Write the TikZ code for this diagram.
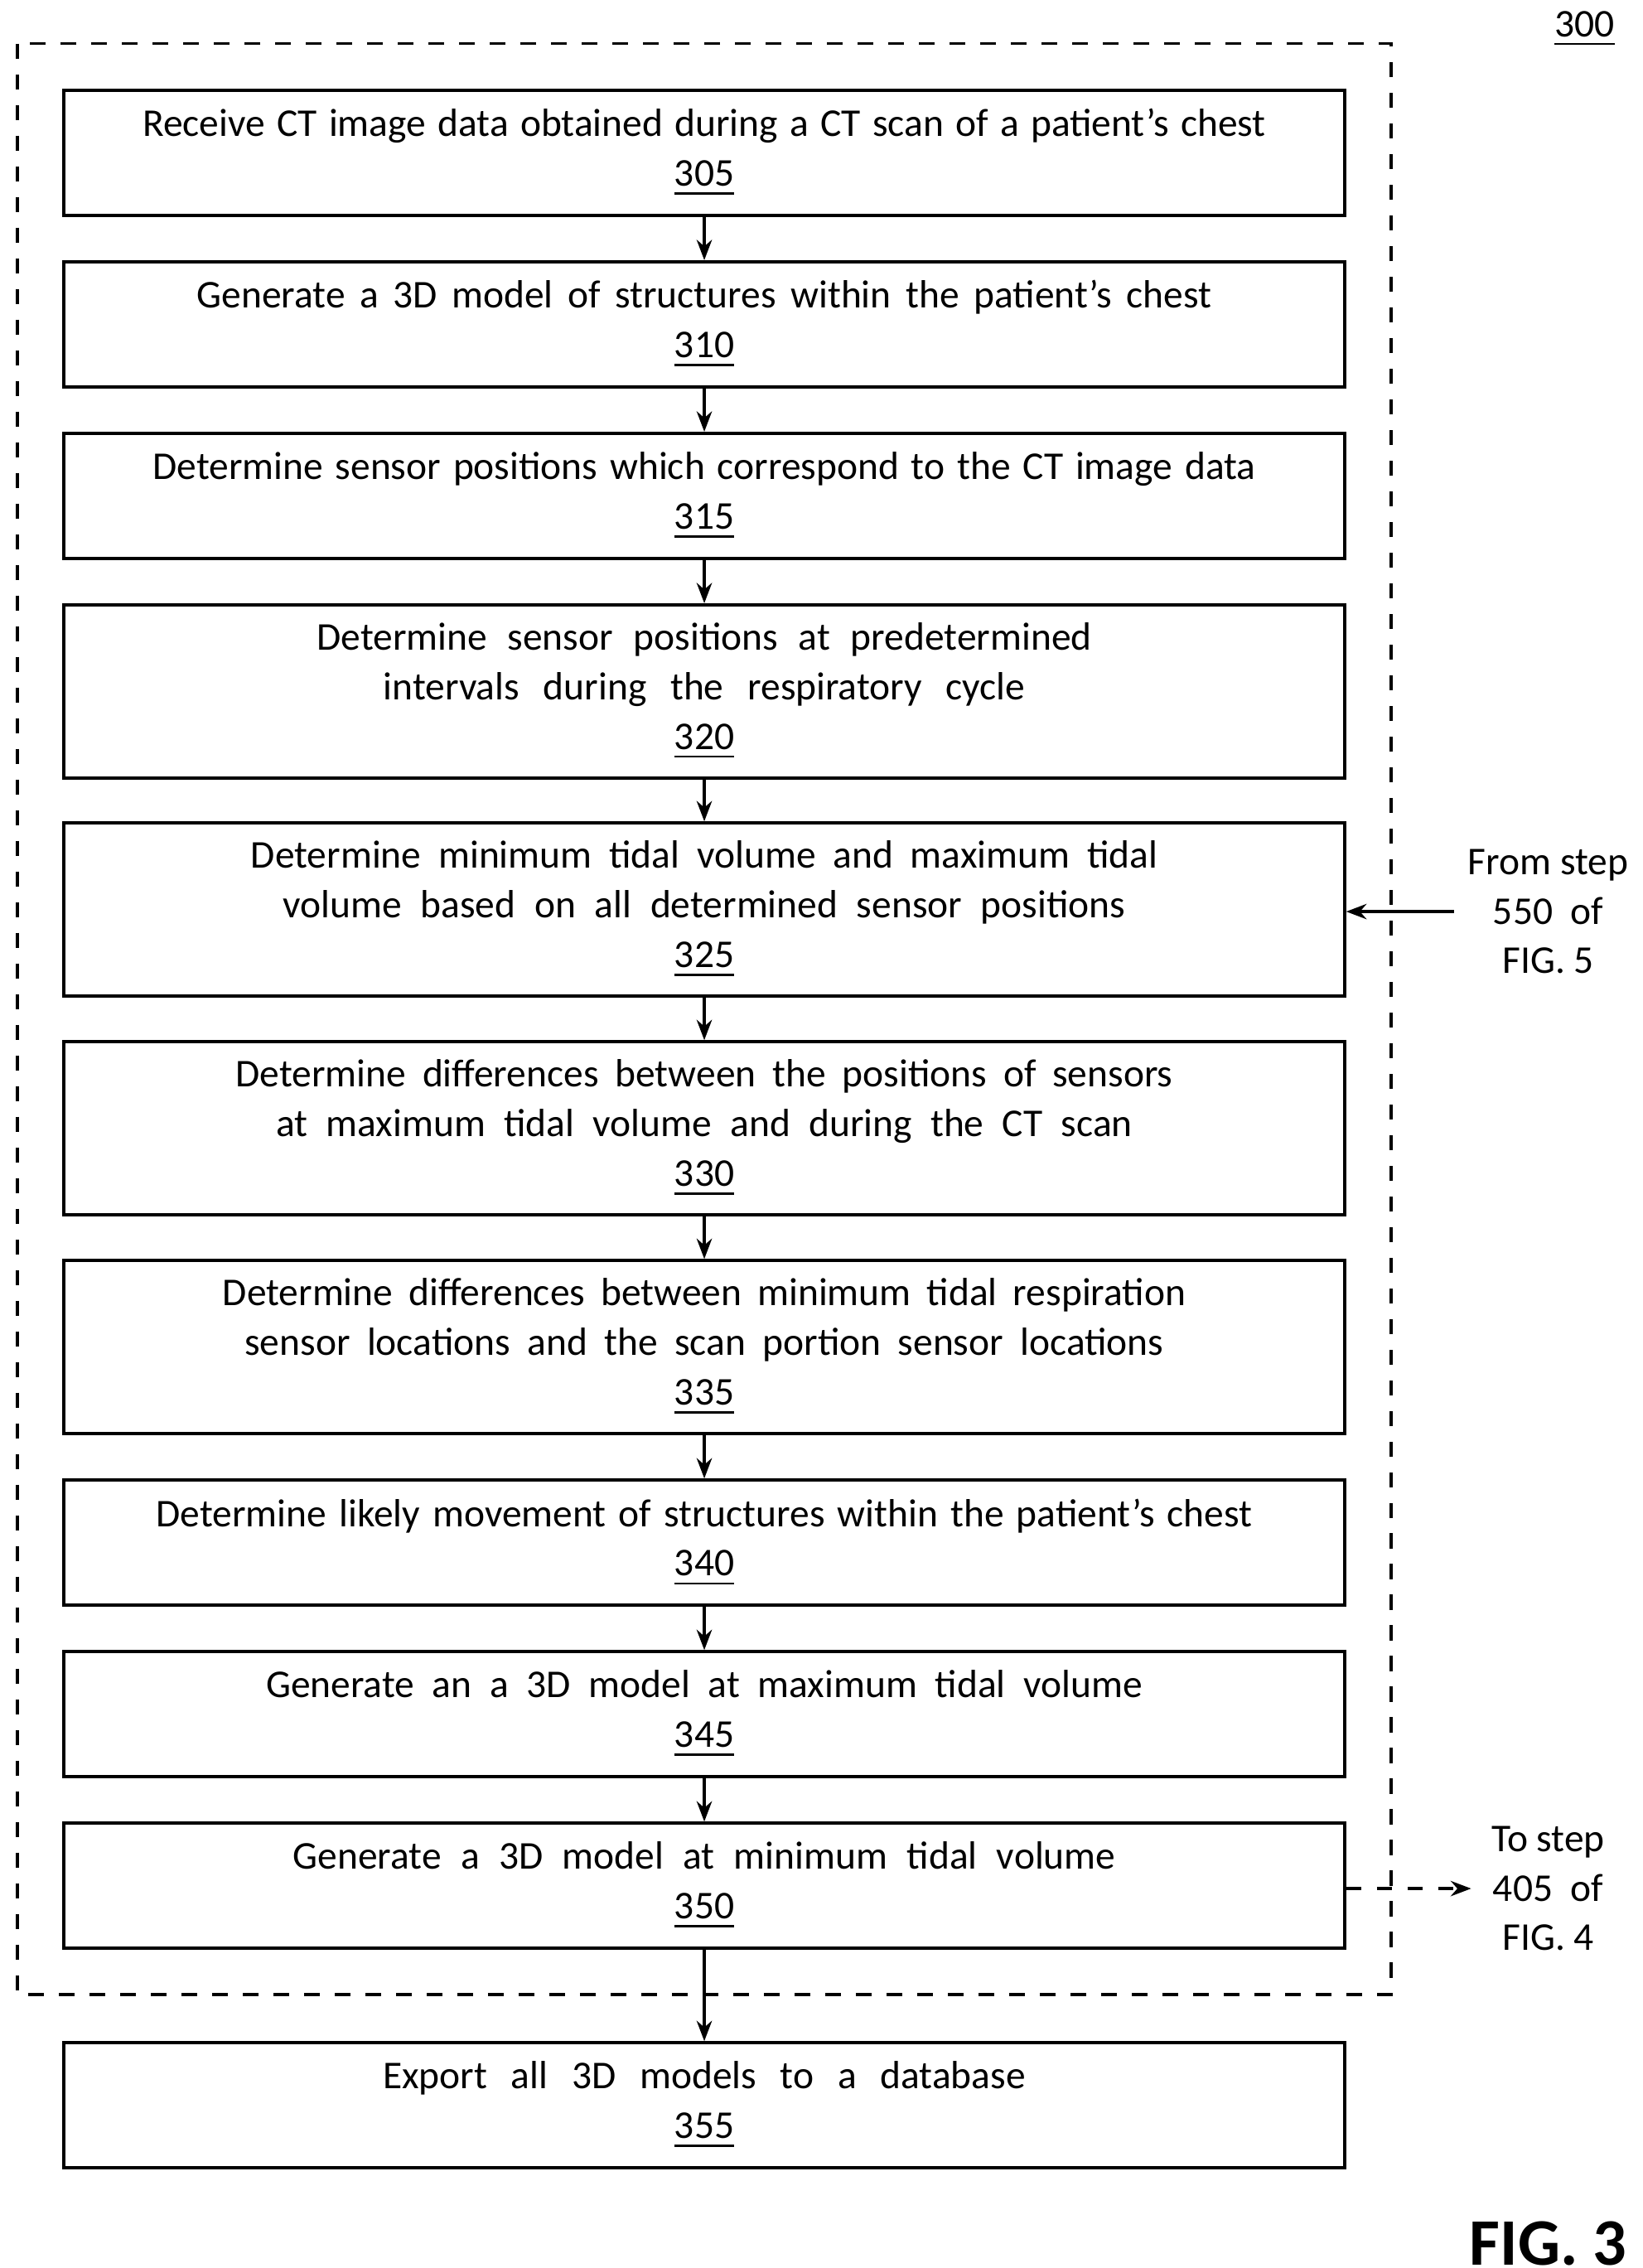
\documentclass[tikz,border=0pt]{standalone}
\usepackage{fontspec}
\setmainfont{Carlito}
\usetikzlibrary{arrows.meta}
\tikzset{
  stepbox/.style={draw,semithick,text width=88.1mm,align=center,inner sep=0pt,
    execute at begin node={\hyphenpenalty=10000\spaceskip=0.2em plus 0.1em minus 0.05em}},
  flow/.style={-{Stealth[length=1.4mm]},semithick}
}
\begin{document}
\begin{tikzpicture}[x=0.1mm,y=-0.1mm,font=\fontsize{7.7}{9.7}\selectfont]
        \useasboundingbox (0,0) rectangle (1130,1560);
        \draw[dashed,semithick] (12,30) rectangle (957,1372);

        \node[stepbox,minimum height=8.6mm] (s305) at (484.5,105)  {Receive CT image data obtained during a CT scan of a patient’s chest\\\underline{305}};
        \node[stepbox,minimum height=8.6mm] (s310) at (484.5,223)  {Generate a 3D model of structures within the patient’s chest\\\underline{310}};
        \node[stepbox,minimum height=8.6mm] (s315) at (484.5,341)  {Determine sensor positions which correspond to the CT image data\\\underline{315}};
        \node[stepbox,minimum height=11.9mm] (s320) at (484.5,475.5) {Determine sensor positions at predetermined intervals during the respiratory cycle\\\underline{320}};
        \node[stepbox,minimum height=11.9mm] (s325) at (484.5,625.5) {Determine minimum tidal volume and maximum tidal volume based on all determined sensor positions\\\underline{325}};
        \node[stepbox,minimum height=11.9mm] (s330) at (484.5,776)  {Determine differences between the positions of sensors at maximum tidal volume and during the CT scan\\\underline{330}};
        \node[stepbox,minimum height=11.9mm] (s335) at (484.5,926.5) {Determine differences between minimum tidal respiration sensor locations and the scan portion sensor locations\\\underline{335}};
        \node[stepbox,minimum height=8.6mm] (s340) at (484.5,1061) {Determine likely movement of structures within the patient’s chest\\\underline{340}};
        \node[stepbox,minimum height=8.6mm] (s345) at (484.5,1179) {Generate an a 3D model at maximum tidal volume\\\underline{345}};
        \node[stepbox,minimum height=8.6mm] (s350) at (484.5,1297) {Generate a 3D model at minimum tidal volume\\\underline{350}};
        \node[stepbox,minimum height=8.6mm] (s355) at (484.5,1448) {Export all 3D models to a database\\\underline{355}};

        \foreach \a/\b in {305/310,310/315,315/320,320/325,325/330,330/335,335/340,340/345,345/350,350/355}
            \draw[flow] (s\a.south) -- (s\b.north);

        \node[align=center] (from) at (1065,627) {From step\\550~~of\\FIG. 5};
        \node[align=center] (to)   at (1065,1299) {To step\\405~~of\\FIG. 4};
        \coordinate (fromend) at (1000,627);
        \coordinate (toend)   at (1012,1299);
        \draw[flow] (fromend) -- (s325.east |- fromend);
        \draw[flow,dashed] (s350.east |- toend) -- (toend);

        \node (fig) at (1090,20) {\underline{300}};
        \node[font=\fontsize{13}{15}\selectfont\bfseries,inner sep=0pt] (figlabel) at (1065,1543) {FIG. 3};
    \end{tikzpicture}
\end{document}
